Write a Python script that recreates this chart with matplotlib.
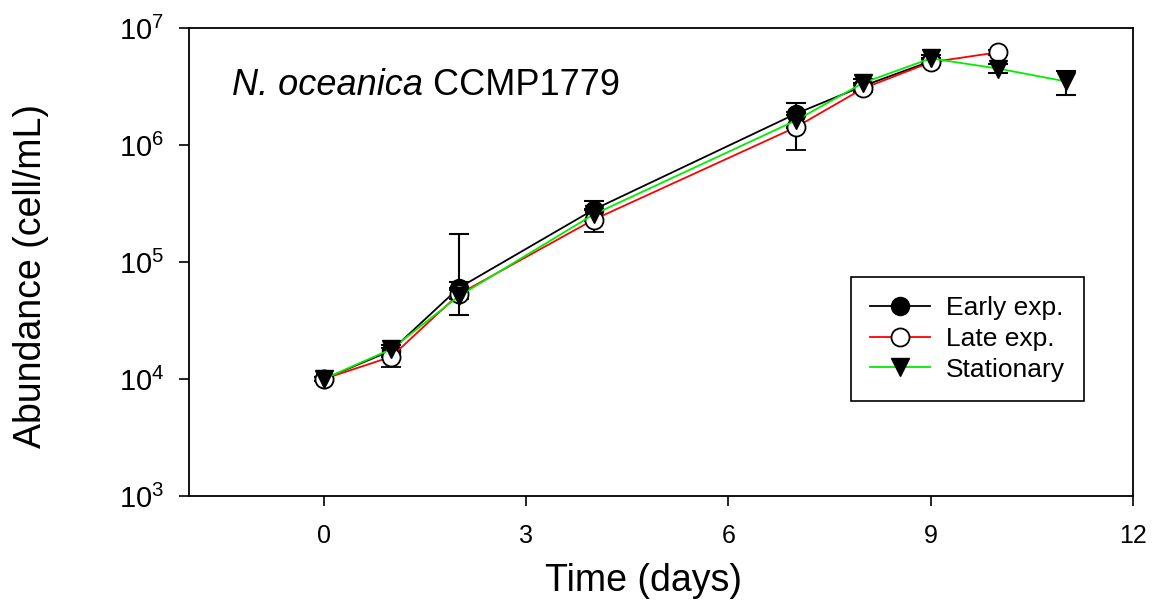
import numpy as np
import matplotlib
matplotlib.use("Agg")
import matplotlib.pyplot as plt
from matplotlib.lines import Line2D

plt.rcParams['font.family'] = ['Liberation Sans', 'DejaVu Sans']
plt.rcParams['mathtext.fontset'] = 'custom'
plt.rcParams['mathtext.rm'] = 'Liberation Sans'
plt.rcParams['mathtext.it'] = 'Liberation Sans:italic'
plt.rcParams['mathtext.bf'] = 'Liberation Sans:bold'

# growth curves (cell/mL)
days_early = [0, 1, 2, 4, 7, 8, 9]
early = [1.0e4, 1.75e4, 6.0e4, 2.8e5, 1.85e6, 3.2e6, 5.2e6]
early_lo = [300, 2000, 0, 5e4, 4.5e5, 2e5, 3e5]
early_hi = [300, 2000, 1.15e5, 5.5e4, 4.5e5, 2e5, 3e5]

days_late = [0, 1, 2, 4, 7, 8, 9, 10]
late = [1.0e4, 1.55e4, 5.3e4, 2.3e5, 1.42e6, 3.05e6, 5.1e6, 6.2e6]
late_err = [300, 2800, 5e3, 5e4, 5.1e5, 2e5, 3e5, 3e5]

days_stat = [0, 1, 2, 4, 7, 8, 9, 10, 11]
stat = [1.0e4, 1.8e4, 5.1e4, 2.55e5, 1.62e6, 3.4e6, 5.5e6, 4.5e6, 3.5e6]
stat_err = [300, 1500, 1.6e4, 3e4, 2e5, 3e5, 4e5, 4e5, 8e5]

fig = plt.figure(figsize=(11.54, 6.05), dpi=100)
ax = fig.add_axes([0.1638, 0.1802, 0.8180, 0.7735])

ms = 13
cap = 7
ax.errorbar(days_early, early, yerr=[early_lo, early_hi], color='black', lw=1.3,
            marker='o', ms=ms, mfc='black', mec='black', ecolor='black',
            elinewidth=1.5, capsize=cap, capthick=1.5, zorder=3)
ax.errorbar(days_late, late, yerr=late_err, color='#ff0000', lw=1.3,
            marker='o', ms=ms, mfc='white', mec='black', mew=1.3, ecolor='black',
            elinewidth=1.5, capsize=cap, capthick=1.5, zorder=3)
ax.errorbar(days_stat, stat, yerr=stat_err, color='#00ee00', lw=1.3,
            marker='v', ms=ms, mfc='black', mec='black', ecolor='black',
            elinewidth=1.5, capsize=cap, capthick=1.5, zorder=3)

ax.set_yscale('log')
ax.set_ylim(1e3, 1e7)
ax.set_xlim(-2, 12)
ax.set_xticks([0, 3, 6, 9, 12])
ax.set_yticks([1e3, 1e4, 1e5, 1e6, 1e7])
ax.minorticks_off()
ax.tick_params(axis='x', direction='out', length=7, width=1.2, labelsize=18, pad=13)
ax.tick_params(axis='y', direction='out', length=7, width=1.2, labelsize=21, pad=11)
for s in ax.spines.values():
    s.set_linewidth(1.3)

ax.set_xlabel('Time (days)', fontsize=27)
ax.set_ylabel('Abundance (cell/mL)', fontsize=27)
ax.xaxis.set_label_coords(0.481, -0.143)
ax.yaxis.set_label_coords(-0.148, 0.47)

t1 = ax.text(0.045, 0.857, 'N. oceanica', transform=ax.transAxes, style='italic',
             fontsize=26, ha='left', va='baseline')
fig.canvas.draw()
bb = t1.get_window_extent().transformed(ax.transAxes.inverted())
ax.text(bb.x1, 0.857, ' CCMP1779', transform=ax.transAxes,
        fontsize=26, ha='left', va='baseline')

handles = [
    Line2D([], [], color='black', lw=1.3, marker='o', ms=ms, mfc='black', mec='black'),
    Line2D([], [], color='#ff0000', lw=1.3, marker='o', ms=ms, mfc='white', mec='black', mew=1.3),
    Line2D([], [], color='#00ee00', lw=1.3, marker='v', ms=ms, mfc='black', mec='black'),
]
leg = ax.legend(handles, ['Early exp.', 'Late exp.', 'Stationary'],
                loc='upper left', bbox_to_anchor=(0.701, 0.468), borderaxespad=0,
                fontsize=19, frameon=True, fancybox=False, edgecolor='black',
                handlelength=2.3, handletextpad=0.6, labelspacing=0.26,
                borderpad=0.72, framealpha=1)
leg.get_frame().set_linewidth(1.2)

fig.savefig('out.png', dpi=100)
